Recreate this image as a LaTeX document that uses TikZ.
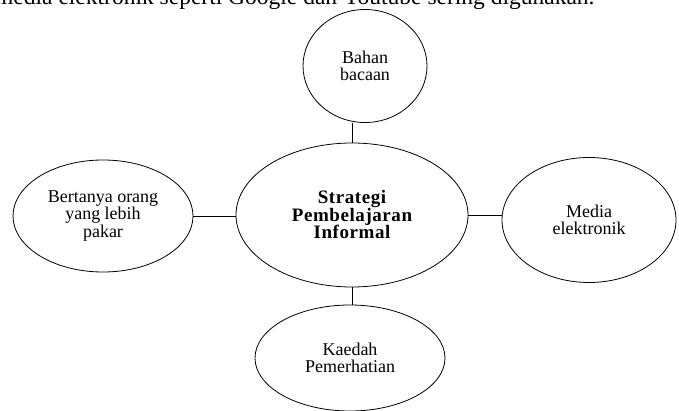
\documentclass[tikz,border=0pt]{standalone}
\usepackage{fontspec}
\setmainfont{Liberation Serif}
\usetikzlibrary{shapes.geometric}

\tikzset{
  bubble/.style={draw, thick, ellipse, inner sep=0pt, align=center,
    font=\fontsize{18}{17.5}\selectfont},
  link/.style={thick}
}

\begin{document}
\begin{tikzpicture}[x=1pt,y=-1pt]
			\useasboundingbox (0,0) rectangle (679,411);
			\node[anchor=base west, inner sep=0pt, font=\fontsize{23.5}{24}\selectfont] (caption) at (-5,5) {media elektronik seperti Google dan Youtube sering digunakan.};
			
			\node[bubble, minimum width=232pt, minimum height=144pt, font=\fontsize{19}{17.5}\selectfont\bfseries\addfontfeatures{LetterSpace=3}] (strategi) at (352,215) {Strategi\\Pembelajaran\\Informal};
			\node[bubble, minimum width=124pt, minimum height=113pt] (bahan) at (365,66) {Bahan\\bacaan};
			\node[bubble, minimum width=180pt, minimum height=112pt] (tanya) at (103,216) {Bertanya orang\\yang lebih\\pakar};
			\node[bubble, minimum width=174pt, minimum height=125pt] (media) at (589,220) {Media\\elektronik};
			\node[bubble, minimum width=190pt, minimum height=106pt] (kaedah) at (350,358) {Kaedah\\Pemerhatian};
			
			\draw[link] (strategi.north) -- (strategi.north |- bahan.south);
			\draw[link] (strategi.south) -- (strategi.south |- kaedah.north);
			\draw[link] (tanya.east) -- (tanya.east -| strategi.west);
			\draw[link] (strategi.east) -- (strategi.east -| media.west);
		\end{tikzpicture}
\end{document}
